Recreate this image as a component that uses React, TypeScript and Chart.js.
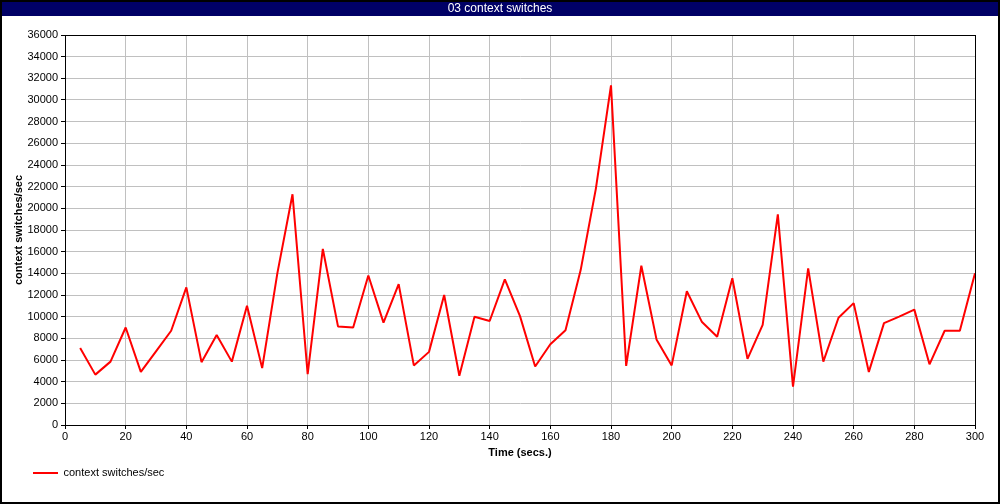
import { useEffect, useRef } from 'react';
import { Chart, registerables } from 'chart.js';

Chart.register(...registerables);

const TITLE = '03 context switches';
const SERIES_LABEL = 'context switches/sec';
const X_TITLE = 'Time (secs.)';
const Y_TITLE = 'context switches/sec';

const times = [
  5, 10, 15, 20, 25, 30, 35, 40, 45, 50, 55, 60, 65, 70, 75, 80, 85, 90, 95, 100,
  105, 110, 115, 120, 125, 130, 135, 140, 145, 150, 155, 160, 165, 170, 175, 180, 185, 190, 195, 200,
  205, 210, 215, 220, 225, 230, 235, 240, 245, 250, 255, 260, 265, 270, 275, 280, 285, 290, 295, 300,
];

const contextSwitches = [
  7100, 4650, 5850, 9000, 4900, 6800, 8700, 12700, 5800, 8300, 5850, 11000, 5250, 14000, 21300, 4700, 16250, 9100, 9000, 13800,
  9450, 13000, 5500, 6750, 12000, 4550, 10000, 9600, 13450, 10050, 5400, 7450, 8750, 14300, 21800, 31350, 5450, 14700, 7900, 5500,
  12350, 9500, 8150, 13550, 6100, 9250, 19450, 3550, 14450, 5850, 9900, 11250, 4900, 9400, 10000, 10650, 5600, 8700, 8700, 14000,
];

const X_MIN = 0;
const X_MAX = 300;
const X_STEP = 20;
const Y_MIN = 0;
const Y_MAX = 36000;
const Y_STEP = 2000;

const FONT = 'Liberation Sans, Arial, sans-serif';

const framePlugin = {
  id: 'framePlugin',
  beforeDraw(chart: any) {
    const { ctx, width, height } = chart;
    ctx.save();
    ctx.fillStyle = '#ffffff';
    ctx.fillRect(0, 0, width, height);
    ctx.fillStyle = '#000066';
    ctx.fillRect(0, 0, width, 16);
    ctx.restore();
  },
  afterDraw(chart: any) {
    const { ctx, width, height, chartArea } = chart;
    const { left, top, right, bottom } = chartArea;
    ctx.save();
    ctx.strokeStyle = '#000000';
    ctx.lineWidth = 1;
    ctx.strokeRect(Math.round(left) + 0.5, Math.round(top) + 0.5, Math.round(right - left), Math.round(bottom - top));
    ctx.lineWidth = 2;
    ctx.strokeRect(1, 1, width - 2, height - 2);
    ctx.restore();
  },
};

export default function App() {
  const canvasRef = useRef<HTMLCanvasElement | null>(null);

  useEffect(() => {
    if (!canvasRef.current) return;
    const chart = new Chart(canvasRef.current, {
      type: 'line',
      data: {
        datasets: [
          {
            label: SERIES_LABEL,
            data: times.map((t, i) => ({ x: t, y: contextSwitches[i] })),
            borderColor: '#ff0000',
            backgroundColor: '#ff0000',
            borderWidth: 2,
            borderJoinStyle: 'bevel',
            pointRadius: 0,
            pointHoverRadius: 0,
            tension: 0,
            fill: false,
          },
        ],
      },
      options: {
        animation: false,
        responsive: false,
        devicePixelRatio: 1,
        layout: { padding: { left: 25, right: 25, top: 0, bottom: 15.4 } },
        plugins: {
          title: {
            display: true,
            text: TITLE,
            color: '#ffffff',
            font: { family: 'Liberation Sans Narrow, Liberation Sans, Arial, sans-serif', size: 12, weight: 'normal' },
            padding: { top: 1, bottom: 19.6 },
          },
          legend: {
            display: true,
            position: 'bottom',
            align: 'start',
            labels: {
              usePointStyle: true,
              pointStyle: 'line',
              pointStyleWidth: 25,
              padding: 8,
              color: '#000000',
              font: { family: FONT, size: 11 },
            },
          },
          tooltip: { enabled: false },
        },
        scales: {
          x: {
            type: 'linear',
            min: X_MIN,
            max: X_MAX,
            ticks: {
              stepSize: X_STEP,
              color: '#000000',
              font: { family: FONT, size: 11 },
              padding: 1,
              maxRotation: 0,
              autoSkip: false,
              callback: (v: any) => String(v),
            },
            grid: { color: '#c0c0c0', tickColor: '#000000', tickLength: 4, lineWidth: 1 },
            border: { color: '#000000', width: 1 },
            title: {
              display: true,
              text: X_TITLE,
              color: '#000000',
              font: { family: FONT, size: 11, weight: 'bold' },
              padding: { top: 0, bottom: 0 },
            },
            afterFit(s: any) {
              s.height = 34.6;
              s.paddingLeft = 0;
              s.paddingRight = 0;
            },
          },
          y: {
            type: 'linear',
            min: Y_MIN,
            max: Y_MAX,
            ticks: {
              stepSize: Y_STEP,
              color: '#000000',
              font: { family: FONT, size: 11 },
              padding: 3,
              autoSkip: false,
              callback: (v: any) => String(v),
            },
            grid: { color: '#c0c0c0', tickColor: '#000000', tickLength: 4, lineWidth: 1 },
            border: { color: '#000000', width: 1 },
            title: {
              display: true,
              text: Y_TITLE,
              color: '#000000',
              font: { family: FONT, size: 11, weight: 'bold' },
              padding: { top: -12.6, bottom: 0 },
            },
            afterFit(s: any) {
              s.width = 40;
              s.paddingTop = 0;
              s.paddingBottom = 0;
            },
          },
        },
      },
      plugins: [framePlugin],
    });
    return () => chart.destroy();
  }, []);

  return (
    <div style={{ position: 'absolute', left: 0, top: 0, width: 1000, height: 504 }}>
      <canvas ref={canvasRef} width={1000} height={504} style={{ display: 'block' }} />
    </div>
  );
}
